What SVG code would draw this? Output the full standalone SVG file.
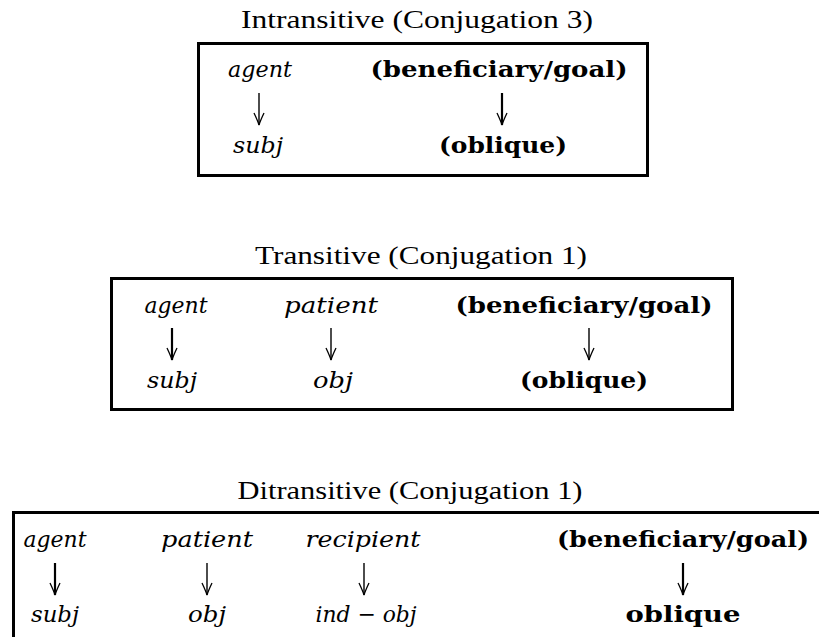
<svg xmlns="http://www.w3.org/2000/svg" width="819" height="637" viewBox="0 0 819 637">
  <style>
    text { font-family: "Liberation Serif", "Times New Roman", serif; font-size: 25px; fill: #000; text-anchor: middle; }
    .it { font-family: "DejaVu Serif", "Liberation Serif", serif; font-style: italic; font-size: 23px; }
    .bf { font-family: "DejaVu Serif", "Liberation Serif", serif; font-weight: bold; font-size: 23px; }
    .frame { fill: none; stroke: #000; stroke-width: 3; }
    .arr { stroke: #000; stroke-width: 1.4; fill: none; marker-end: url(#head); }
    .arr.thick { stroke-width: 2.2; }
  </style>
  <defs>
    <marker id="head" viewBox="-13 -6 14 12" markerWidth="14" markerHeight="12" refX="0" refY="0" orient="auto" markerUnits="userSpaceOnUse">
      <path d="M-12,-5 Q-4,-1.2 0,0 M-12,5 Q-4,1.2 0,0" fill="none" stroke="#000" stroke-width="1.3"/>
    </marker>
  </defs>

  <!-- Intransitive -->
  <g id="intransitive">
    <text x="417" y="28" textLength="352" lengthAdjust="spacingAndGlyphs">Intransitive (Conjugation 3)</text>
    <rect class="frame" x="198.5" y="43.5" width="449" height="132"/>
    <g id="intr-agent"><text class="it" x="260" y="77" textLength="64" lengthAdjust="spacingAndGlyphs">agent</text></g>
    <g id="intr-ben"><text class="bf" x="499" y="77" textLength="257" lengthAdjust="spacingAndGlyphs">(beneficiary/goal)</text></g>
    <g id="intr-subj"><text class="it" x="258" y="153" textLength="50" lengthAdjust="spacingAndGlyphs">subj</text></g>
    <g id="intr-obl"><text class="bf" x="503" y="153" textLength="128" lengthAdjust="spacingAndGlyphs">(oblique)</text></g>
  </g>

  <!-- Transitive -->
  <g id="transitive">
    <text x="421" y="264" textLength="332" lengthAdjust="spacingAndGlyphs">Transitive (Conjugation 1)</text>
    <rect class="frame" x="111.5" y="278.5" width="621" height="131"/>
    <g id="tr-agent"><text class="it" x="176" y="313" textLength="63" lengthAdjust="spacingAndGlyphs">agent</text></g>
    <g id="tr-patient"><text class="it" x="331" y="313" textLength="94" lengthAdjust="spacingAndGlyphs">patient</text></g>
    <g id="tr-ben"><text class="bf" x="584" y="313" textLength="257" lengthAdjust="spacingAndGlyphs">(beneficiary/goal)</text></g>
    <g id="tr-subj"><text class="it" x="172" y="388" textLength="50" lengthAdjust="spacingAndGlyphs">subj</text></g>
    <g id="tr-obj"><text class="it" x="333" y="388" textLength="40" lengthAdjust="spacingAndGlyphs">obj</text></g>
    <g id="tr-obl"><text class="bf" x="584" y="388" textLength="128" lengthAdjust="spacingAndGlyphs">(oblique)</text></g>
  </g>

  <!-- Ditransitive (frame runs past the right and bottom edges) -->
  <g id="ditransitive">
    <text x="410" y="499" textLength="345" lengthAdjust="spacingAndGlyphs">Ditransitive (Conjugation 1)</text>
    <rect class="frame" x="13.5" y="512.5" width="900" height="200"/>
    <g id="di-agent"><text class="it" x="55" y="547" textLength="63" lengthAdjust="spacingAndGlyphs">agent</text></g>
    <g id="di-patient"><text class="it" x="207" y="547" textLength="92" lengthAdjust="spacingAndGlyphs">patient</text></g>
    <g id="di-recipient"><text class="it" x="363" y="547" textLength="115" lengthAdjust="spacingAndGlyphs">recipient</text></g>
    <g id="di-ben"><text class="bf" x="683" y="547" textLength="252" lengthAdjust="spacingAndGlyphs">(beneficiary/goal)</text></g>
    <g id="di-subj"><text class="it" x="55" y="622" textLength="48" lengthAdjust="spacingAndGlyphs">subj</text></g>
    <g id="di-obj"><text class="it" x="207" y="622" textLength="38" lengthAdjust="spacingAndGlyphs">obj</text></g>
    <g id="di-indobj"><text class="it" x="366" y="622" textLength="101" lengthAdjust="spacingAndGlyphs">ind − obj</text></g>
    <g id="di-obl"><text class="bf" x="683" y="622" textLength="115" lengthAdjust="spacingAndGlyphs">oblique</text></g>
  </g>

  <!-- mapping arrows -->
  <g id="connectors">
    <line class="arr" x1="259" y1="93" x2="259" y2="125"/>
    <line class="arr thick" x1="502" y1="93" x2="502" y2="125"/>
    <line class="arr thick" x1="172" y1="328" x2="172" y2="360"/>
    <line class="arr" x1="331" y1="328" x2="331" y2="360"/>
    <line class="arr" x1="589" y1="328" x2="589" y2="360"/>
    <line class="arr thick" x1="55" y1="563" x2="55" y2="595"/>
    <line class="arr" x1="207" y1="563" x2="207" y2="595"/>
    <line class="arr" x1="364" y1="563" x2="364" y2="595"/>
    <line class="arr thick" x1="683" y1="563" x2="683" y2="595"/>
  </g>
</svg>
